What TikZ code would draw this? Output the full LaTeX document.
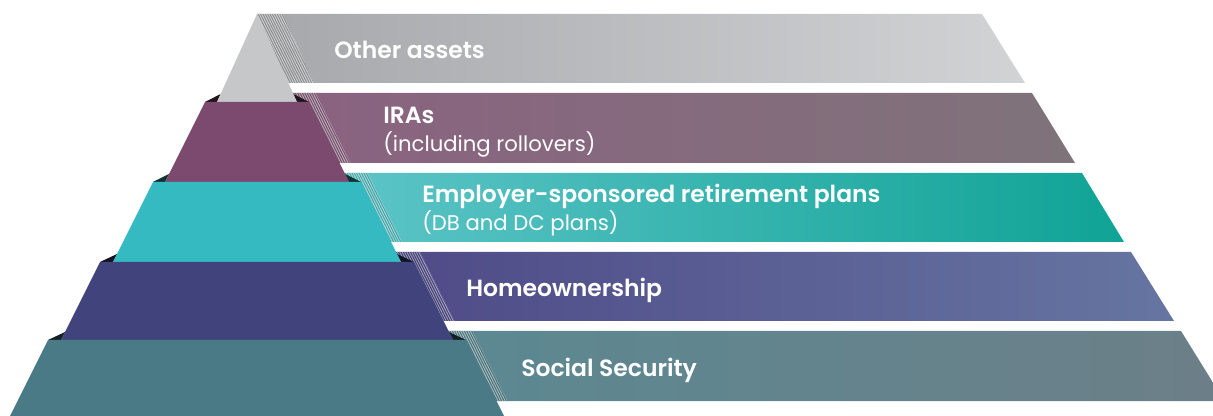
\documentclass[tikz,border=0pt]{standalone}
\usepackage{fontspec}
\setmainfont{Poppins}
\newfontfamily\titlefont{Poppins SemiBold}
\usetikzlibrary{patterns.meta}
\definecolor{tierA}{HTML}{C6C7C9}
\definecolor{tierB}{HTML}{7C4A6F}
\definecolor{tierC}{HTML}{36BAC1}
\definecolor{tierD}{HTML}{41437C}
\definecolor{tierE}{HTML}{4B7A87}
\definecolor{bandAl}{HTML}{A7A9AC}
\definecolor{bandAr}{HTML}{D2D3D5}
\definecolor{bandBl}{HTML}{8A6380}
\definecolor{bandBr}{HTML}{7F737A}
\definecolor{bandCl}{HTML}{5AC3C5}
\definecolor{bandCr}{HTML}{10A396}
\definecolor{bandDl}{HTML}{504C89}
\definecolor{bandDr}{HTML}{6675A1}
\definecolor{bandEl}{HTML}{5C8891}
\definecolor{bandEr}{HTML}{6C7F88}
\tikzset{
  tierbox/.style={fill=#1, draw=none},
  notch/.style={fill=#1!28!black, draw=none},
  bandbody/.style={left color=band#1l, right color=band#1r, draw=none},
  stripbase/.style={fill=band#1l!82!black, draw=none},
  striphatch/.style={pattern={Lines[angle=116.57,distance=1.6pt,line width=0.7pt]}, pattern color=band#1l!55!white, draw=none},
  title/.style={text=white, anchor=base west, inner sep=0pt, font=\titlefont\fontsize{17.6}{21}\selectfont},
  subtitle/.style={text=white, anchor=base west, inner sep=0pt, font=\fontsize{15.9}{19}\selectfont}
}
\begin{document}
\begin{tikzpicture}[x=0.75pt,y=-0.75pt]
\useasboundingbox (0,0) rectangle (1213,416);
% ---------- bands (behind the pyramid) ----------
% band 1
\fill[stripbase=A] (257,14) -- (283,14) -- (314,83) -- (288.4,83) -- cycle;
\fill[striphatch=A] (257,14) -- (283,14) -- (314,83) -- (288.4,83) -- cycle;
\shade[bandbody=A] (283,14) -- (982,14) -- (1025,83) -- (314,83) -- cycle;
% band 2
\fill[stripbase=B] (289.5,93) -- (315.5,93) -- (350.5,163) -- (324.5,163) -- cycle;
\fill[striphatch=B] (289.5,93) -- (315.5,93) -- (350.5,163) -- (324.5,163) -- cycle;
\shade[bandbody=B] (315.5,93) -- (1032,93) -- (1075,163) -- (350.5,163) -- cycle;
% band 3
\fill[stripbase=C] (341.5,173) -- (367.5,173) -- (402,242) -- (376,242) -- cycle;
\fill[striphatch=C] (341.5,173) -- (367.5,173) -- (402,242) -- (376,242) -- cycle;
\shade[bandbody=C] (367.5,173) -- (1082,173) -- (1124,242) -- (402,242) -- cycle;
% band 4
\fill[stripbase=D] (394,252) -- (420,252) -- (454.5,321) -- (428.5,321) -- cycle;
\fill[striphatch=D] (394,252) -- (420,252) -- (454.5,321) -- (428.5,321) -- cycle;
\shade[bandbody=D] (420,252) -- (1131,252) -- (1174,321) -- (454.5,321) -- cycle;
% band 5
\fill[stripbase=E] (446.5,331) -- (472.5,331) -- (507.5,401) -- (481.5,401) -- cycle;
\fill[striphatch=E] (446.5,331) -- (472.5,331) -- (507.5,401) -- (481.5,401) -- cycle;
\shade[bandbody=E] (472.5,331) -- (1181,331) -- (1213,382.6) -- (1213,401) -- (507.5,401) -- cycle;
% ---------- step shadows ----------
\fill[notch=tierB] (205,102) -- (220.6,94) -- (217,102) -- cycle;
\fill[notch=tierB] (309,102) -- (293.4,94) -- (297,102) -- cycle;
\fill[notch=tierC] (153,182) -- (169,174) -- (165,182) -- cycle;
\fill[notch=tierC] (361,182) -- (345,174) -- (349,182) -- cycle;
\fill[notch=tierD] (100,262) -- (117,254) -- (113,262) -- cycle;
\fill[notch=tierD] (414,262) -- (397,254) -- (401,262) -- cycle;
\fill[notch=tierE] (48,340) -- (65,332) -- (61,340) -- cycle;
\fill[notch=tierE] (466,340) -- (449,332) -- (453,340) -- cycle;
% ---------- pyramid tiers ----------
\fill[tierbox=tierA] (257,14) -- (297,102) -- (217,102) -- cycle;
\fill[tierbox=tierB] (205,102) -- (309,102) -- (349,182) -- (165,182) -- cycle;
\fill[tierbox=tierC] (153,182) -- (361,182) -- (401,262) -- (113,262) -- cycle;
\fill[tierbox=tierD] (100,262) -- (414,262) -- (453,340) -- (61,340) -- cycle;
\fill[tierbox=tierE] (48,340) -- (466,340) -- (504,416) -- (10,416) -- cycle;
% ---------- labels ----------
\node[title] (other) at (334,59) {Other assets};
\node[title] (ira) at (383,123.5) {IRAs};
\node[subtitle] (irasub) at (383,151.5) {(including rollovers)};
\node[title] (emp) at (422,203) {Employer-sponsored retirement plans};
\node[subtitle] (empsub) at (422,231) {(DB and DC plans)};
\node[title] (home) at (466,297) {Homeownership};
\node[title] (social) at (521,377) {Social Security};
\end{tikzpicture}
\end{document}
